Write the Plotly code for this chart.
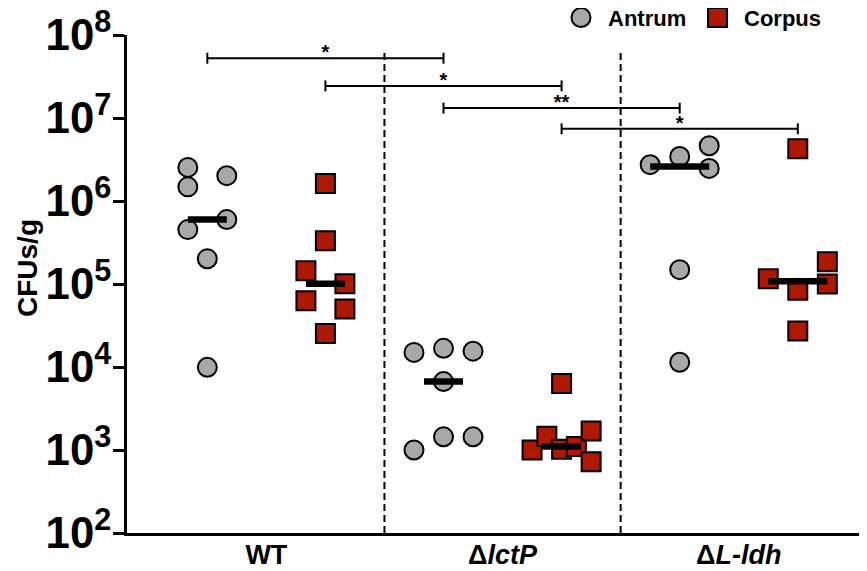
import numpy as np
import plotly.graph_objects as go

# ---------------- data ----------------
groups = ["WT", "Δ<i>lctP</i>", "Δ<i>L-ldh</i>"]
tissues = ["Antrum", "Corpus"]

wt_antrum = [2.54e6, 1.48e6, 2.02e6, 5.97e5, 4.52e5, 2.01e5, 9.9e3]
wt_corpus = [1.62e6, 3.31e5, 1.44e5, 1.01e5, 6.3e4, 5.0e4, 2.54e4]
lctp_antrum = [1.50e4, 1.68e4, 1.55e4, 6.67e3, 1.00e3, 1.44e3, 1.44e3]
lctp_corpus = [6.31e3, 1.00e3, 1.46e3, 1.02e3, 1.10e3, 1.69e3, 7.2e2]
ldh_antrum = [2.74e6, 3.44e6, 4.63e6, 2.47e6, 1.49e5, 1.14e4]
ldh_corpus = [4.26e6, 1.16e5, 8.43e4, 1.85e5, 1.00e5, 2.71e4]

# significance comparisons: (column from, column to, label)
comparisons = [(0, 2, "*"), (1, 3, "*"), (2, 4, "**"), (3, 5, "*")]

# ---------------- layout helpers (positions / styles) ----------------
columns = [wt_antrum, wt_corpus, lctp_antrum, lctp_corpus, ldh_antrum, ldh_corpus]
jitter = [
    [-0.165, -0.165, 0.165, 0.165, -0.165, 0, 0],
    [0, 0, -0.165, 0.165, -0.165, 0.165, 0],
    [-0.25, 0, 0.25, 0, -0.25, 0, 0.25],
    [0, -0.25, -0.125, 0, 0.125, 0.25, 0.25],
    [-0.25, 0, 0.25, 0.25, 0, 0],
    [0, -0.25, 0, 0.25, 0.25, 0],
]
median_halfwidth = [0.165, 0.165, 0.165, 0.165, 0.25, 0.25]
bracket_levels = [7.72, 7.387, 7.119, 6.870]  # log10 heights
cap = 0.066

FONT = "Liberation Sans, Arial, sans-serif"
GREY = "#A8A8A8"
RED = "#AE1700"

OFF = 8  # page body margin
W, H = 867 - OFF, 571 - OFF
L, R, T, B = 127 - OFF, 0, 35 - OFF, 38
PW, PH = W - L - R, H - T - B


def px(xs):  # screen pixel -> paper x
    return (xs - OFF - L) / PW


def py(ys):  # screen pixel -> paper y
    return (H - B - (ys - OFF)) / PH


fig = go.Figure()

# dashed separators
for xs in [1.5, 3.5]:
    fig.add_trace(go.Scatter(
        x=[xs, xs], y=[1e2, 10 ** 7.8], mode="lines",
        line=dict(color="black", width=2, dash="7px,4px"),
        showlegend=False, hoverinfo="skip"))

# points
for k, vals in enumerate(columns):
    tissue = tissues[k % 2]
    is_antrum = (k % 2 == 0)
    fig.add_trace(go.Scatter(
        x=[k + j for j in jitter[k]], y=vals, mode="markers",
        name=tissue, showlegend=False,
        marker=dict(symbol="circle" if is_antrum else "square",
                    size=19, color=GREY if is_antrum else RED,
                    line=dict(color="black", width=2)),
        cliponaxis=False))

# medians
for k, vals in enumerate(columns):
    med = float(np.median(vals))
    hw = median_halfwidth[k]
    fig.add_trace(go.Scatter(
        x=[k - hw, k + hw], y=[med, med], mode="lines",
        line=dict(color="black", width=6.5),
        showlegend=False, hoverinfo="skip"))

# significance brackets
for (c0, c1, lab), lv in zip(comparisons, bracket_levels):
    lo, mid, hi = 10 ** (lv - cap), 10 ** lv, 10 ** (lv + cap)
    fig.add_trace(go.Scatter(
        x=[c0, c0, None, c0, c1, None, c1, c1],
        y=[lo, hi, None, mid, mid, None, lo, hi],
        mode="lines", line=dict(color="black", width=2),
        showlegend=False, hoverinfo="skip"))
    fig.add_trace(go.Scatter(
        x=[(c0 + c1) / 2], y=[10 ** (lv + 0.05)], mode="text", text=[lab],
        textposition="middle center",
        textfont=dict(family=FONT, size=20, color="black", weight="bold"),
        showlegend=False, hoverinfo="skip", cliponaxis=False))

fig.update_layout(
    width=W, height=H,
    margin=dict(l=L, r=R, t=T, b=B, autoexpand=False),
    paper_bgcolor="white", plot_bgcolor="white",
    font=dict(family=FONT, color="black"),
    showlegend=False,
)

fig.update_xaxes(
    range=[-0.68, 5.586], tickvals=[0.5, 2.5, 4.5], ticktext=groups,
    ticks="", ticklen=0, ticklabelstandoff=-4,
    showline=True, linecolor="black", linewidth=2.5,
    showgrid=False, zeroline=False, automargin=False,
    tickfont=dict(family=FONT, size=27, weight="bold"))

fig.update_yaxes(
    type="log", range=[2, 8], dtick=1, exponentformat="power",
    ticks="outside", ticklen=11, tickwidth=2.5, tickcolor="black",
    ticklabelstandoff=-5, ticklabeloverflow="allow",
    showline=True, linecolor="black", linewidth=2.5,
    showgrid=False, zeroline=False, automargin=False,
    tickfont=dict(family=FONT, size=35, weight="bold"))

fig.add_annotation(
    text="CFUs/g", textangle=-90, xref="paper", yref="paper",
    x=px(27), y=py(268), showarrow=False,
    xanchor="center", yanchor="middle",
    font=dict(family=FONT, size=28, weight="bold"))

# legend (drawn manually)
legend_items = [("circle", GREY, 581, "Antrum", 606), ("rect", RED, 717.5, "Corpus", 742)]
for shp, col, cx, label, tx in legend_items:
    fig.add_shape(type=shp, xref="paper", yref="paper",
                  xsizemode="pixel", ysizemode="pixel",
                  xanchor=px(cx), yanchor=py(17.5),
                  x0=-9.5, x1=9.5, y0=-9.5, y1=9.5,
                  fillcolor=col, line=dict(color="black", width=2))
    fig.add_annotation(text=label, xref="paper", yref="paper",
                       x=px(tx), y=py(18), xanchor="left", yanchor="middle",
                       showarrow=False,
                       font=dict(family=FONT, size=22, weight="bold"))

fig.write_html("out.html")
